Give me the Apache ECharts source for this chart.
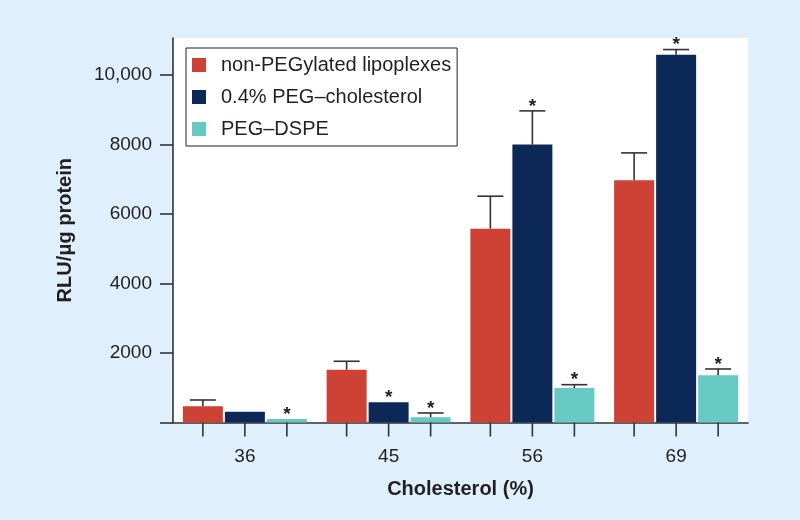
<!DOCTYPE html>
<html>
<head>
<meta charset="utf-8">
<script src="https://cdn.jsdelivr.net/npm/echarts@6/dist/echarts.min.js"></script>
<style>
html,body{margin:0;padding:0;background:#dfeffb;}
#chart{width:800px;height:520px;}
</style>
</head>
<body>
<div id="chart"></div>
<script>
// ---- data ----
const categories = ['36', '45', '56', '69'];
const seriesNames = ['non-PEGylated lipoplexes', '0.4% PEG–cholesterol', 'PEG–DSPE'];
const nonPeg      = [466, 1520, 5580, 6976];
const nonPegErr   = [648, 1763, 6515, 7762];
const nonPegStar  = [0, 0, 0, 0];
const pegChol     = [311, 582, 8001, 10585];
const pegCholErr  = [311, 582, 8972, 10737];
const pegCholStar = [0, 1, 1, 1];
const pegDspe     = [100, 150, 994, 1359];
const pegDspeErr  = [100, 274, 1089, 1541];
const pegDspeStar = [1, 1, 1, 1];
const yTickValues = [2000, 4000, 6000, 8000, 10000];
const yTickLabels = ['2000', '4000', '6000', '8000', '10,000'];

// ---- style ----
const colors = ['#cd4234', '#0c2857', '#68c8c3'];
const FONT = '"Liberation Sans", Arial, Helvetica, sans-serif';
const TXT = '#231f20';
const AX = '#333333';
const BAR_W = 40, BAR_GAP_PX = 2;

const values = [nonPeg, pegChol, pegDspe];
const errs = [nonPegErr, pegCholErr, pegDspeErr];
const stars = [nonPegStar, pegCholStar, pegDspeStar];

const barSeries = values.map((vals, k) => ({
  name: seriesNames[k],
  type: 'bar',
  data: vals,
  barWidth: BAR_W,
  barGap: (BAR_GAP_PX / BAR_W * 100) + '%',
  itemStyle: { color: colors[k] },
  z: 2
}));

const errSeries = values.map((vals, k) => ({
  name: 'err' + k,
  type: 'custom',
  clip: false,
  z: 5,
  encode: { x: 0, y: 1 },
  data: categories.map((c, i) => [i, vals[i], errs[k][i], stars[k][i]]),
  renderItem: function (params, api) {
    const i = api.value(0), v = api.value(1), e = api.value(2), s = api.value(3);
    const offset = (k - 1) * (BAR_W + BAR_GAP_PX);
    const c0 = api.coord([i, 0]);
    const cv = api.coord([i, v]);
    const ce = api.coord([i, e]);
    const x = c0[0] + offset;
    const ls = { stroke: AX, lineWidth: 1.6 };
    const children = [
      { type: 'line', shape: { x1: x, y1: c0[1], x2: x, y2: c0[1] + 14 }, style: ls }
    ];
    let topY = cv[1];
    if (e > v) {
      children.push({ type: 'line', shape: { x1: x, y1: cv[1], x2: x, y2: ce[1] }, style: ls });
      children.push({ type: 'line', shape: { x1: x - 13, y1: ce[1], x2: x + 13, y2: ce[1] }, style: ls });
      topY = ce[1];
    }
    if (s) {
      children.push({ type: 'text', style: { text: '*', x: x, y: topY - 4.5, align: 'center', verticalAlign: 'middle',
        font: 'bold 19px ' + FONT, fill: '#222' } });
    }
    return { type: 'group', children: children };
  }
}));

const chart = echarts.init(document.getElementById('chart'), null, { renderer: 'canvas' });
chart.setOption({
  animation: false,
  backgroundColor: '#dfeffb',
  textStyle: { fontFamily: FONT },
  grid: { left: 173, right: 52, top: 38, bottom: 97.5, show: true, backgroundColor: '#ffffff', borderWidth: 0 },
  legend: {
    data: seriesNames,
    orient: 'vertical',
    left: 186, top: 48,
    padding: [7, 6, 7, 6],
    itemWidth: 14, itemHeight: 14, itemGap: 12,
    icon: 'rect',
    borderColor: '#222', borderWidth: 1,
    backgroundColor: '#fff',
    textStyle: { fontSize: 20, color: TXT, fontFamily: FONT, padding: [0, 0, 0, 10] }
  },
  xAxis: {
    type: 'category',
    data: categories,
    axisTick: { show: false },
    axisLine: { lineStyle: { color: AX, width: 1.6 } },
    axisLabel: { fontSize: 19, color: TXT, margin: 25, fontFamily: FONT },
    name: 'Cholesterol (%)',
    nameLocation: 'middle',
    nameGap: 57,
    nameTextStyle: { fontSize: 20, fontWeight: 'bold', color: TXT, fontFamily: FONT },
    splitLine: { show: false }
  },
  yAxis: {
    type: 'value',
    min: 0, max: 11070,
    axisLine: { show: true, lineStyle: { color: AX, width: 1.6 } },
    axisTick: { show: true, length: 13, lineStyle: { color: AX, width: 1.6 }, customValues: [0].concat(yTickValues) },
    axisLabel: { fontSize: 19, color: TXT, margin: 21, fontFamily: FONT, customValues: yTickValues,
      formatter: function (v) { const idx = yTickValues.indexOf(v); return idx >= 0 ? yTickLabels[idx] : ''; } },
    splitLine: { show: false },
    name: 'RLU/μg protein',
    nameLocation: 'middle',
    nameRotate: 90,
    nameGap: 98,
    nameTextStyle: { fontSize: 20, fontWeight: 'bold', color: TXT, fontFamily: FONT }
  },
  series: barSeries.concat(errSeries)
});
</script>
</body>
</html>
